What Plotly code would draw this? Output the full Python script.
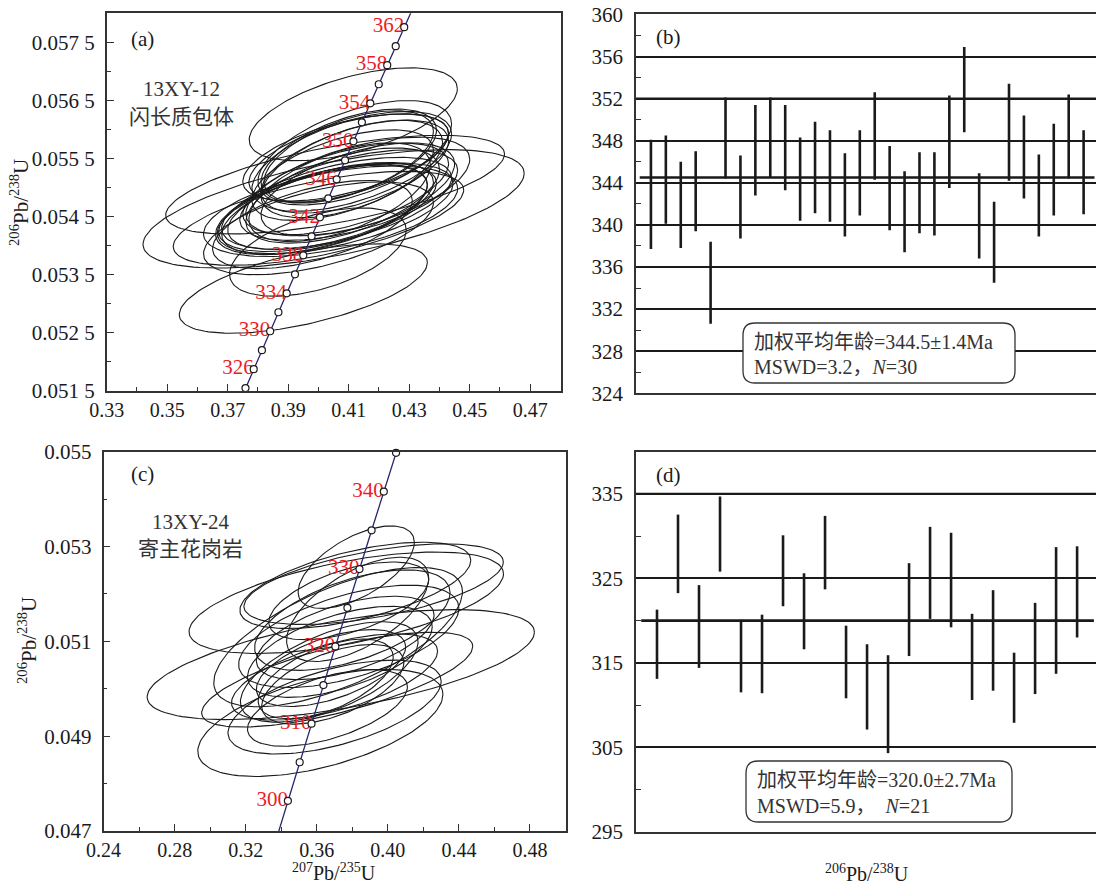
import numpy as np
import plotly.graph_objects as go

W, H = 1096, 884

# decay constants (per Ma)
L238 = 1.55125e-4
L235 = 9.8485e-4

# ---------------- Panel (a): 13XY-12 concordia ellipses ----------------
a_x = [0.405, 0.408, 0.400, 0.404, 0.395, 0.410, 0.404, 0.411, 0.409, 0.412,
       0.410, 0.4055, 0.407, 0.401, 0.413, 0.410, 0.406, 0.398, 0.403, 0.4055,
       0.411, 0.4115, 0.400, 0.3998, 0.412, 0.408, 0.402, 0.413, 0.410, 0.409]
a_sx = [0.063, 0.032, 0.048, 0.034, 0.041, 0.033, 0.042, 0.030, 0.034, 0.031,
        0.036, 0.056, 0.030, 0.035, 0.032, 0.029, 0.038, 0.033, 0.036, 0.039,
        0.033, 0.0344, 0.038, 0.0292, 0.032, 0.030, 0.034, 0.037, 0.028, 0.034]
a_y = [0.054632, 0.054861, 0.054469, 0.054681, 0.053259, 0.055508, 0.054591, 0.055319, 0.055516, 0.055360,
       0.054869, 0.055049, 0.054919, 0.054624, 0.054968, 0.055540, 0.054730, 0.054362, 0.054657, 0.054640,
       0.055450, 0.056261, 0.054297, 0.053888, 0.055598, 0.055213, 0.054616, 0.055017, 0.055532, 0.054976]
a_sy = [0.00102, 0.00082, 0.00081, 0.00075, 0.00077, 0.00076, 0.00078, 0.00084, 0.00075, 0.00080,
        0.00078, 0.00085, 0.00085, 0.00078, 0.00080, 0.00081, 0.00079, 0.00076, 0.00076, 0.00078,
        0.00086, 0.00080, 0.00080, 0.00076, 0.00090, 0.00078, 0.00077, 0.00085, 0.00079, 0.00079]
a_rho = [0.60, 0.55, 0.60, 0.55, 0.58, 0.55, 0.50, 0.55, 0.55, 0.55,
         0.55, 0.62, 0.55, 0.55, 0.55, 0.55, 0.55, 0.55, 0.55, 0.55,
         0.55, 0.55, 0.55, 0.50, 0.55, 0.55, 0.55, 0.55, 0.55, 0.55]
a_marker_ages = list(range(324, 364, 2))
a_label_ages = [326, 330, 334, 338, 342, 346, 350, 354, 358, 362]

# ---------------- Panel (b): 13XY-12 weighted mean ----------------
b_age = [342.9, 344.3, 341.9, 343.2, 334.5, 348.25, 342.65, 347.1, 348.3, 347.35,
         344.35, 345.45, 344.65, 342.85, 344.95, 348.45, 343.5, 341.25, 343.05, 342.95,
         347.9, 352.85, 340.85, 338.35, 348.8, 346.45, 342.8, 345.25, 348.4, 345.0]
b_err = [5.2, 4.2, 4.1, 3.8, 3.9, 3.85, 3.95, 4.3, 3.8, 4.05,
         3.95, 4.35, 4.35, 3.95, 4.05, 4.15, 4.0, 3.85, 3.85, 3.95,
         4.4, 4.05, 4.05, 3.85, 4.6, 3.95, 3.9, 4.35, 4.0, 4.0]
b_mean = 344.5
b_thick_grid = [336, 352]
b_text1 = "加权平均年龄=344.5±1.4Ma"
b_text2 = "MSWD=3.2，<i>N</i>=30"

# ---------------- Panel (c): 13XY-24 concordia ellipses ----------------
c_x = [0.368, 0.3817, 0.373, 0.3822, 0.365, 0.370, 0.378, 0.376, 0.392, 0.369,
       0.370, 0.362, 0.378, 0.3766, 0.383, 0.3715, 0.3735, 0.366, 0.367, 0.372, 0.380]
c_sx = [0.042, 0.065, 0.052, 0.0327, 0.038, 0.058, 0.045, 0.050, 0.073, 0.040,
        0.060, 0.069, 0.062, 0.0885, 0.040, 0.0763, 0.109, 0.045, 0.050, 0.070, 0.055]
c_y = [0.050437, 0.052181, 0.050779, 0.052565, 0.050208, 0.050249, 0.051855, 0.051072, 0.052206, 0.050094,
       0.049614, 0.049280, 0.051105, 0.051814, 0.051675, 0.050192, 0.050510, 0.049597, 0.050355, 0.051089, 0.051447]
c_sy = [0.00081, 0.00091, 0.00096, 0.00087, 0.00084, 0.00091, 0.00082, 0.00088, 0.00085, 0.00084,
        0.00099, 0.00113, 0.00108, 0.00107, 0.00110, 0.00100, 0.00116, 0.00081, 0.00106, 0.00147, 0.00106]
c_rho = [0.55, 0.58, 0.55, 0.60, 0.55, 0.60, 0.55, 0.55, 0.55, 0.55,
         0.55, 0.53, 0.55, 0.57, 0.60, 0.70, 0.59, 0.55, 0.60, 0.65, 0.55]
c_marker_ages = list(range(300, 350, 5))
c_label_ages = [300, 310, 320, 330, 340]

# ---------------- Panel (d): 13XY-24 weighted mean ----------------
d_age = [317.2, 327.9, 319.3, 330.25, 315.8, 316.05, 325.9, 321.1, 328.05, 315.1,
         312.15, 310.1, 321.3, 325.65, 324.8, 315.7, 317.65, 312.05, 316.7, 321.2, 323.4]
d_err = [4.1, 4.65, 4.9, 4.45, 4.3, 4.65, 4.2, 4.5, 4.35, 4.3,
         5.05, 5.8, 5.5, 5.45, 5.6, 5.1, 5.95, 4.15, 5.4, 7.5, 5.4]
d_mean = 320.0
d_thick_grid = [335]
d_text1 = "加权平均年龄=320.0±2.7Ma"
d_text2 = "MSWD=5.9，&nbsp;&nbsp;<i>N</i>=21"

# tick labels
a_xticks = [0.33, 0.35, 0.37, 0.39, 0.41, 0.43, 0.45, 0.47]
a_xminor = [0.34, 0.36, 0.38, 0.40, 0.42, 0.44, 0.46]
a_yticks = [0.0515, 0.0525, 0.0535, 0.0545, 0.0555, 0.0565, 0.0575]
a_yticktext = ["0.051 5", "0.052 5", "0.053 5", "0.054 5", "0.055 5", "0.056 5", "0.057 5"]
a_yminor = [0.052, 0.053, 0.054, 0.055, 0.056, 0.057]
c_xticks = [0.24, 0.28, 0.32, 0.36, 0.40, 0.44, 0.48]
c_xminor = [0.26, 0.30, 0.34, 0.38, 0.42, 0.46]
c_yticks = [0.047, 0.049, 0.051, 0.053, 0.055]
c_yminor = [0.048, 0.050, 0.052, 0.054]
b_yticks = [324, 328, 332, 336, 340, 344, 348, 352, 356, 360]
b_yminor = [326, 330, 334, 338, 342, 346, 350, 354, 358]
d_yticks = [295, 305, 315, 325, 335]
d_yminor = [300, 310, 320, 330]

SERIF = "Liberation Serif, Noto Sans CJK SC, serif"
INK = "#1a1a1a"
AX = "#333333"
RED = "#ee1c25"
NAVY = "#26266e"


def ellipse_path(xs, sxs, ys, sys_, rhos, n=140):
    th = np.linspace(0, 2 * np.pi, n)
    X, Y = [], []
    for cx, sx, cy, sy, r in zip(xs, sxs, ys, sys_, rhos):
        X += list(cx + sx * np.cos(th)) + [None]
        Y += list(cy + sy * (r * np.cos(th) + np.sqrt(1 - r * r) * np.sin(th))) + [None]
    return X, Y


def conc(ages):
    ages = np.asarray(ages, dtype=float)
    return np.exp(L235 * ages) - 1, np.exp(L238 * ages) - 1


fig = go.Figure()

# ---- concordia panels
for (xs, sxs, ys, sys_, rhos, mk, lb, xa, ya, trange) in [
    (a_x, a_sx, a_y, a_sy, a_rho, a_marker_ages, a_label_ages, "x", "y", (315, 372)),
    (c_x, c_sx, c_y, c_sy, c_rho, c_marker_ages, c_label_ages, "x3", "y3", (290, 352)),
]:
    ex, ey = ellipse_path(xs, sxs, ys, sys_, rhos)
    fig.add_trace(go.Scatter(x=ex, y=ey, mode="lines", xaxis=xa, yaxis=ya,
                             line=dict(color=INK, width=1.1), hoverinfo="skip", showlegend=False))
    tc = np.linspace(trange[0], trange[1], 400)
    cx_, cy_ = conc(tc)
    fig.add_trace(go.Scatter(x=cx_, y=cy_, mode="lines", xaxis=xa, yaxis=ya,
                             line=dict(color=NAVY, width=1.3), hoverinfo="skip", showlegend=False))
    lx, ly = conc(lb)
    fig.add_trace(go.Scatter(x=lx, y=ly, mode="text", text=[str(v) for v in lb],
                             textposition="middle left", xaxis=xa, yaxis=ya, cliponaxis=False,
                             textfont=dict(family=SERIF, size=21, color=RED),
                             hoverinfo="skip", showlegend=False))
    mx, my = conc(mk)
    fig.add_trace(go.Scatter(x=mx, y=my, mode="markers", xaxis=xa, yaxis=ya, cliponaxis=False,
                             marker=dict(symbol="circle", size=7, color="white",
                                         line=dict(color=INK, width=1.2)),
                             hoverinfo="skip", showlegend=False))

# ---- weighted mean panels
for (ages, errs, mean, thick, xa, ya, xr) in [
    (b_age, b_err, b_mean, b_thick_grid, "x2", "y2", 30.83),
    (d_age, d_err, d_mean, d_thick_grid, "x4", "y4", 21.9),
]:
    idx = list(range(1, len(ages) + 1))
    fig.add_trace(go.Scatter(x=idx, y=ages, mode="markers", xaxis=xa, yaxis=ya,
                             marker=dict(size=1, color="rgba(0,0,0,0)"),
                             error_y=dict(type="data", array=errs, visible=True, width=0,
                                          thickness=2.6, color=INK),
                             hoverinfo="skip", showlegend=False))
    fig.add_shape(type="line", xref=xa, yref=ya, x0=0.25, x1=xr - 0.1, y0=mean, y1=mean,
                  line=dict(color=INK, width=2.6), layer="above")
    for g in thick:
        fig.add_shape(type="line", xref=xa, yref=ya, x0=0, x1=xr, y0=g, y1=g,
                      line=dict(color=INK, width=2.2), layer="above")


def px_x(p):
    return p / W


def px_y(p):
    return 1 - p / H


def rounded_box(x0, y0, x1, y1, r):
    def P(x, y):
        return f"{px_x(x):.5f},{px_y(y):.5f}"
    path = (f"M {P(x0 + r, y0)} L {P(x1 - r, y0)} Q {P(x1, y0)} {P(x1, y0 + r)} "
            f"L {P(x1, y1 - r)} Q {P(x1, y1)} {P(x1 - r, y1)} "
            f"L {P(x0 + r, y1)} Q {P(x0, y1)} {P(x0, y1 - r)} "
            f"L {P(x0, y0 + r)} Q {P(x0, y0)} {P(x0 + r, y0)} Z")
    return dict(type="path", xref="paper", yref="paper", path=path,
                line=dict(color=AX, width=1.3), fillcolor="white", layer="above")


fig.add_shape(rounded_box(743, 323, 1015, 383, 12))
fig.add_shape(rounded_box(746, 761, 1012, 822, 12))

annos = []


def ann(text, x, y, size=21, xanchor="center", color=INK, angle=0):
    annos.append(dict(text=text, x=px_x(x), y=px_y(y), xref="paper", yref="paper",
                      showarrow=False, xanchor=xanchor, yanchor="middle", textangle=angle,
                      font=dict(family=SERIF, size=size, color=color)))


ann("(a)", 142, 39)
ann("(b)", 668, 37)
ann("(c)", 142, 474)
ann("(d)", 668, 475)
ann("13XY-12", 181, 89, color="#333")
ann("闪长质包体", 181, 117, color="#333")
ann("13XY-24", 190, 522, color="#333")
ann("寄主花岗岩", 190, 549, color="#333")
ann(b_text1, 752, 342, size=20, xanchor="left", color="#333")
ann(b_text2, 752, 367, size=20, xanchor="left", color="#333")
ann(d_text1, 755, 780, size=20, xanchor="left", color="#333")
ann(d_text2, 755, 806, size=20, xanchor="left", color="#333")
ann("<sup>206</sup>Pb/<sup>238</sup>U", 20, 203, angle=-90)
ann("<sup>206</sup>Pb/<sup>238</sup>U", 27, 641, angle=-90)
ann("<sup>207</sup>Pb/<sup>235</sup>U", 334, 872, size=20)
ann("<sup>206</sup>Pb/<sup>238</sup>U", 867, 873, size=20)

tickfont = dict(family=SERIF, size=21, color=INK)
xtickfont = dict(family=SERIF, size=20, color=INK)


def conc_xaxis(dom, rng, ticks, minor):
    return dict(domain=dom, range=rng, tickmode="array", tickvals=ticks,
                ticktext=[f"{t:.2f}" for t in ticks], ticks="inside", ticklen=7, tickwidth=1.3,
                tickcolor=AX, minor=dict(tickmode="array", tickvals=minor, ticks="inside",
                                         ticklen=4, tickcolor=AX, showgrid=False),
                showline=True, linecolor=AX, linewidth=1.6, mirror=True, showgrid=False,
                zeroline=False, tickfont=xtickfont, ticklabelstandoff=0, automargin=False)


def conc_yaxis(dom, rng, ticks, text, minor):
    return dict(domain=dom, range=rng, tickmode="array", tickvals=ticks, ticktext=text,
                ticks="inside", ticklen=7, tickwidth=1.3, tickcolor=AX,
                minor=dict(tickmode="array", tickvals=minor, ticks="inside",
                           ticklen=4, tickcolor=AX, showgrid=False),
                showline=True, linecolor=AX, linewidth=1.6, mirror=True, showgrid=False,
                zeroline=False, tickfont=tickfont, ticklabelstandoff=6, automargin=False)


def wm_xaxis(dom, rng):
    return dict(domain=dom, range=rng, showticklabels=False, ticks="", showgrid=False,
                showline=True, linecolor=AX, linewidth=1.6, mirror=True, zeroline=False,
                automargin=False)


def wm_yaxis(dom, rng, ticks, minor):
    return dict(domain=dom, range=rng, tickmode="array", tickvals=ticks,
                ticktext=[str(t) for t in ticks], ticks="",
                minor=dict(tickmode="array", tickvals=minor, ticks="inside",
                           ticklen=5, tickcolor=AX, showgrid=False),
                showgrid=True, gridcolor=INK, gridwidth=1.5,
                showline=True, linecolor=AX, linewidth=1.6, mirror=False, zeroline=False,
                tickfont=tickfont, ticklabelstandoff=7, automargin=False)


fig.update_layout(
    width=W, height=H, margin=dict(l=0, r=0, t=0, b=0, autoexpand=False),
    paper_bgcolor="white", plot_bgcolor="white", showlegend=False,
    xaxis=conc_xaxis([106.7 / W, 560.5 / W], [0.33, 0.48], a_xticks, a_xminor),
    yaxis=conc_yaxis([px_y(390.7), px_y(13.3)], [0.0515, 0.058], a_yticks, a_yticktext, a_yminor),
    xaxis2=wm_xaxis([636 / W, 1.0], [0, 30.83]),
    yaxis2=wm_yaxis([px_y(393.3), px_y(14.4)], [324, 360], b_yticks, b_yminor),
    xaxis3=conc_xaxis([103.6 / W, 565.5 / W], [0.24, 0.50], c_xticks, c_xminor),
    yaxis3=conc_yaxis([px_y(831), px_y(451.7)], [0.047, 0.055], c_yticks,
                      [f"{t:.3f}" for t in c_yticks], c_yminor),
    xaxis4=wm_xaxis([636 / W, 1.0], [0, 21.9]),
    yaxis4=wm_yaxis([px_y(831.7), px_y(451.7)], [295, 340], d_yticks, d_yminor),
    annotations=annos,
)
fig.update_layout(xaxis2_anchor="y2", yaxis2_anchor="x2", xaxis3_anchor="y3",
                  yaxis3_anchor="x3", xaxis4_anchor="y4", yaxis4_anchor="x4")

fig.write_html("out.html", config={"displayModeBar": False},
               post_script="document.body.style.margin='0';document.body.style.overflow='hidden';")
